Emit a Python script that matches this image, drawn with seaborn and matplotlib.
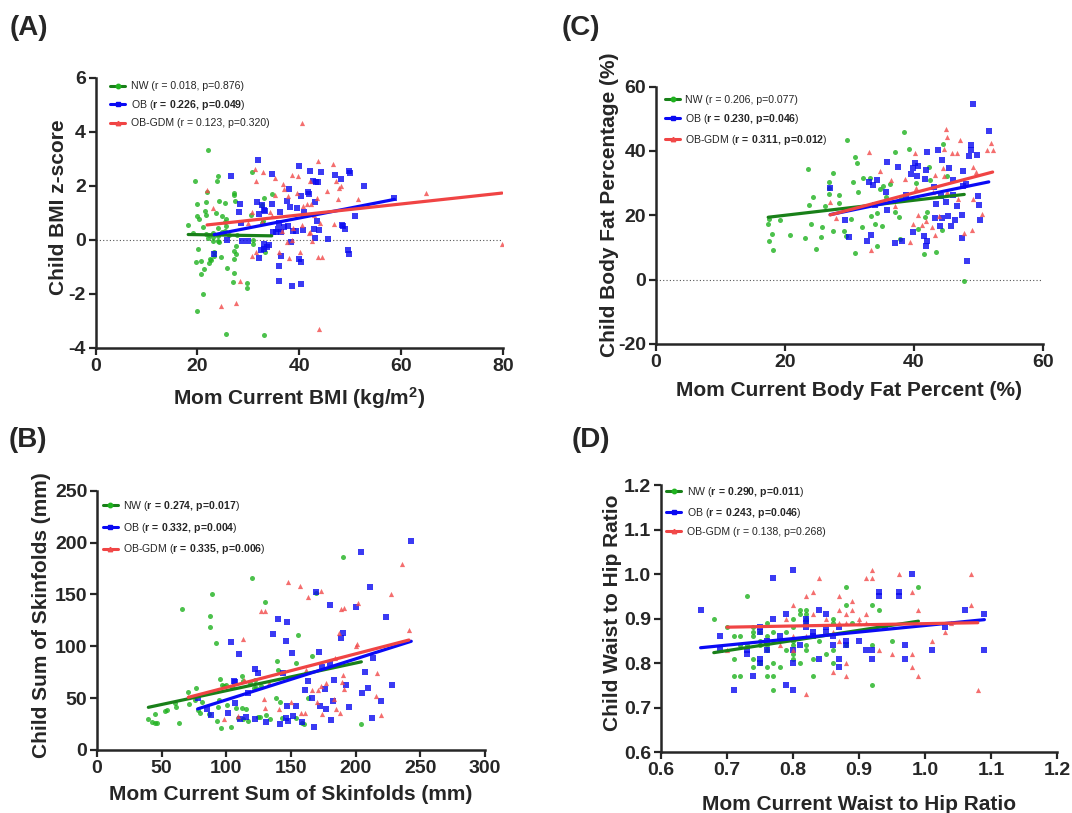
import matplotlib
matplotlib.use("Agg")
import matplotlib.pyplot as plt
from matplotlib.lines import Line2D
import seaborn as sns

# ---- data ----
# (A) Mom BMI vs child BMI z-score
a_nw_x = [22.0, 19.5, 24.0, 23.8, 21.9, 27.1, 27.2, 20.0, 21.7, 24.3, 25.4, 27.3, 21.4, 21.6,
          23.7, 20.0, 20.3, 24.8, 25.6, 25.4, 25.6, 18.2, 21.2, 24.1, 19.2, 21.6, 22.3, 23.0,
          24.8, 25.4, 27.7, 23.1, 24.0, 24.2, 22.0, 23.0, 24.1, 26.3, 27.5, 20.2, 23.3, 23.2,
          22.5, 22.6, 22.3, 20.8, 19.7, 21.3, 20.8, 24.6, 27.1, 27.5, 27.1, 25.8, 27.2, 26.9,
          29.7, 29.7, 21.2, 20.0, 25.6, 33.1, 30.7, 34.6, 33.1, 32.7, 30.6, 31.0, 31.0, 32.8,
          32.6, 33.3]
a_nw_y = [3.33, 2.17, 2.38, 2.20, 1.77, 1.73, 1.66, 1.34, 1.42, 1.45, 1.36, 1.46, 1.06, 0.91,
          0.99, 0.87, 0.78, 0.87, 0.77, 0.66, 0.53, 0.55, 0.47, 0.44, 0.26, 0.23, 0.17, 0.26,
          0.29, 0.32, 0.20, -0.05, -0.05, -0.09, 0.07, 0.12, 0.14, 0.17, -0.21, -0.32, -0.45, -0.58,
          -0.70, -0.76, -0.87, -0.77, -0.80, -1.09, -1.25, -0.63, -0.40, -0.51, -0.69, -1.03, -1.21, -1.56,
          -1.61, -1.77, -2.01, -2.63, -3.47, -3.53, 2.53, 1.72, 1.57, 1.28, 0.92, -0.01, -0.14, 0.69,
          0.61, -0.45]
a_ob_x = [31.9, 40.0, 26.6, 34.6, 42.2, 44.2, 47.0, 49.7, 50.0, 52.7, 48.2, 42.7, 43.2, 43.7,
          40.3, 41.8, 41.9, 38.0, 34.6, 32.7, 31.7, 28.4, 28.2, 33.3, 33.1, 32.0, 36.3, 37.6,
          38.2, 39.5, 41.0, 43.0, 43.5, 28.6, 36.1, 37.0, 37.8, 38.8, 39.3, 40.7, 42.9, 43.8,
          48.4, 48.9, 48.5, 50.9, 34.8, 35.4, 36.5, 35.8, 45.6, 43.0, 25.9, 28.8, 30.0, 33.0,
          33.6, 33.1, 34.1, 32.4, 32.1, 36.4, 38.4, 39.9, 40.3, 36.0, 49.5, 49.7, 23.3, 36.0,
          38.6, 40.4, 58.7]
a_ob_y = [2.98, 2.75, 2.36, 2.43, 2.54, 2.50, 2.40, 2.56, 2.49, 2.00, 2.27, 2.18, 2.16, 2.14,
          1.63, 1.77, 1.70, 1.89, 1.34, 1.29, 1.42, 1.34, 1.03, 1.06, 1.12, 0.97, 1.04, 1.45,
          1.23, 1.20, 1.04, 1.39, 0.71, 0.64, 0.61, 0.47, 0.50, 0.34, 0.34, 0.38, 0.42, 0.38,
          0.55, 0.40, 0.53, 0.88, 0.29, 0.28, 0.29, 0.40, 0.02, 0.07, 0.00, -0.05, -0.05, -0.15,
          -0.25, -0.32, -0.20, -0.39, -0.66, -0.60, -0.07, -0.70, -0.81, -0.98, -0.36, -0.52, -0.51, -1.52,
          -1.72, -1.64, 1.55]
a_gdm_x = [40.5, 21.9, 31.4, 32.8, 31.6, 35.3, 36.9, 38.5, 39.7, 42.1, 43.7, 46.7, 47.3, 47.9,
           48.2, 64.9, 23.1, 30.8, 35.2, 37.1, 37.8, 39.5, 40.8, 41.5, 42.4, 43.4, 45.4, 47.6,
           51.6, 42.9, 34.2, 34.7, 32.6, 29.9, 36.7, 38.8, 40.5, 41.9, 42.1, 44.0, 46.8, 42.6,
           37.5, 38.5, 31.5, 30.8, 36.1, 38.0, 40.1, 43.7, 44.5, 28.4, 27.5, 24.6, 43.8, 79.8]
a_gdm_y = [4.33, 1.85, 2.61, 2.52, 2.20, 2.29, 2.07, 2.40, 2.37, 2.20, 2.93, 2.80, 2.20, 1.91,
           2.00, 1.75, 1.18, 1.03, 1.67, 1.88, 1.61, 1.75, 1.25, 1.32, 1.34, 1.55, 1.80, 1.51,
           1.50, 0.91, 1.04, 0.90, 0.66, 0.64, 0.32, 0.43, 0.56, 0.27, 0.30, 0.61, 0.58, -0.02,
           -0.06, 0.01, -0.43, -0.60, -0.44, -0.65, -0.45, -0.63, -0.63, -1.53, -2.34, -2.45, -3.29, -0.15]

# (C) Mom body fat % vs child body fat %
c_nw_x = [29.6, 38.4, 39.3, 37.0, 30.8, 31.2, 44.5, 23.5, 27.4, 26.8, 26.9, 24.3, 23.7, 26.9,
          28.4, 28.4, 26.2, 30.5, 32.1, 33.2, 31.4, 34.7, 35.2, 35.7, 38.0, 36.3, 40.3, 42.3,
          42.5, 45.2, 19.2, 17.5, 17.4, 18.0, 17.5, 18.1, 20.8, 23.1, 24.0, 24.8, 25.6, 25.8,
          27.4, 29.2, 29.4, 30.2, 30.8, 31.9, 33.3, 33.9, 34.3, 34.2, 35.0, 37.1, 37.7, 37.9,
          40.6, 41.7, 42.1, 41.6, 43.4, 44.4, 47.8]
c_nw_y = [43.5, 45.8, 40.6, 39.6, 38.0, 36.3, 42.3, 34.4, 33.2, 30.3, 28.5, 25.7, 23.1, 26.6,
          26.2, 23.7, 23.0, 30.3, 31.7, 31.6, 27.3, 28.2, 29.0, 25.7, 25.3, 29.7, 29.9, 34.9,
          31.1, 32.3, 18.5, 18.9, 17.4, 14.1, 12.1, 9.3, 13.8, 13.0, 17.4, 9.6, 13.4, 16.3,
          15.2, 15.0, 13.6, 19.0, 8.2, 16.3, 19.7, 17.4, 10.5, 20.7, 16.6, 21.0, 19.5, 12.7,
          15.9, 19.4, 20.9, 8.0, 8.5, 15.5, -0.4]
c_ob_x = [49.1, 51.6, 48.9, 48.8, 49.7, 48.6, 42.1, 43.7, 44.3, 45.4, 35.8, 37.6, 40.1, 39.8,
          40.6, 39.5, 40.4, 41.9, 41.7, 46.1, 47.6, 47.6, 48.0, 43.1, 46.0, 50.0, 50.1, 44.2,
          43.4, 44.9, 46.6, 45.3, 44.4, 45.8, 46.3, 47.4, 50.2, 43.3, 44.1, 27.0, 33.1, 34.2,
          33.6, 35.7, 35.8, 33.9, 29.3, 30.0, 32.7, 33.4, 37.0, 38.2, 39.9, 41.5, 42.1, 41.9,
          47.5, 48.2, 38.8]
c_ob_y = [54.7, 46.2, 42.0, 40.4, 38.9, 38.3, 39.7, 40.2, 37.2, 34.7, 36.5, 34.9, 36.3, 34.6,
          35.2, 33.0, 32.1, 34.2, 31.4, 31.1, 33.9, 29.1, 29.8, 28.8, 26.4, 26.1, 23.3, 26.1,
          23.6, 24.0, 22.8, 19.7, 19.2, 16.8, 18.4, 20.2, 18.4, 19.2, 16.8, 28.5, 30.5, 30.9,
          29.5, 27.4, 21.8, 23.1, 18.7, 13.2, 12.1, 13.8, 11.3, 11.9, 14.8, 13.5, 12.1, 10.4,
          13.0, 5.7, 26.4]
c_gdm_x = [33.1, 34.8, 36.4, 38.6, 40.2, 44.9, 45.1, 44.7, 45.9, 46.7, 47.1, 52.0, 51.4, 52.2,
           49.2, 49.6, 44.5, 44.7, 43.3, 40.3, 43.0, 45.1, 46.9, 49.2, 50.6, 40.6, 41.9, 43.9,
           42.8, 43.2, 41.3, 39.8, 39.4, 47.7, 49.0, 33.3, 27.9, 27.0, 37.0]
c_gdm_y = [39.6, 33.7, 31.1, 31.3, 39.4, 46.9, 44.4, 40.6, 39.5, 39.4, 43.3, 42.5, 40.2, 40.2,
           34.9, 33.5, 34.7, 32.2, 32.5, 28.5, 27.4, 27.2, 25.1, 25.1, 20.5, 20.0, 18.1, 19.9,
           16.4, 14.0, 16.9, 17.3, 11.8, 14.5, 15.5, 9.3, 19.2, 24.0, 22.8]

# (B) Mom sum of skinfolds vs child sum of skinfolds
b_nw_x = [39.7, 42.8, 44.6, 46.1, 44.6, 52.6, 54.4, 60.3, 63.7, 61.3, 66.0, 70.6, 71.1, 76.3,
          75.8, 78.4, 79.6, 81.4, 86.9, 89.2, 87.6, 87.6, 91.8, 94.8, 96.4, 98.2, 99.5, 94.3,
          93.8, 92.8, 95.9, 103.4, 100.8, 104.1, 107.5, 111.9, 112.6, 109.3, 113.2, 112.4, 115.0,
          117.0, 118.0, 120.1, 121.1, 123.2, 122.2, 124.7, 126.0, 126.8, 129.9, 130.4, 133.5,
          138.1, 139.4, 140.2, 141.2, 142.8, 154.1, 155.7, 154.1, 158.8, 160.0, 166.0, 162.9,
          169.6, 190.2, 204.4]
b_nw_y = [29.9, 26.7, 25.7, 25.7, 34.4, 37.3, 38.6, 45.7, 25.7, 41.8, 135.7, 56.3, 44.1, 59.5,
          48.6, 38.6, 36.0, 46.0, 34.4, 150.2, 129.6, 119.0, 102.9, 68.5, 62.4, 61.7, 62.4, 48.2,
          41.2, 28.3, 20.9, 21.9, 43.4, 61.1, 40.8, 71.7, 66.2, 30.5, 29.6, 40.2, 39.2,
          28.0, 64.3, 165.9, 59.5, 60.1, 67.5, 31.5, 32.1, 61.7, 142.8, 33.8, 29.9,
          49.8, 85.9, 77.2, 46.0, 31.2, 30.5, 111.3, 84.2, 25.7, 24.7, 90.7, 49.8,
          151.8, 185.9, 25.1]
b_ob_x = [77.8, 85.3, 87.9, 103.9, 109.8, 105.9, 106.7, 106.4, 101.5, 110.3, 115.5, 117.0,
          121.9, 124.5, 121.9, 130.9, 135.8, 139.7, 146.6, 145.9, 144.1, 151.0, 147.2, 147.9,
          141.2, 151.8, 153.6, 158.8, 161.1, 163.1, 166.2, 167.8, 169.1, 171.6, 172.2, 174.2,
          176.0, 177.3, 179.9, 179.9, 181.2, 183.0, 182.7, 190.2, 188.9, 192.8, 195.1, 200.0,
          204.4, 205.2, 207.2, 209.3, 211.1, 212.4, 213.1, 219.3, 223.2, 228.4, 243.0, 146.4]
b_ob_y = [50.5, 39.9, 33.4, 104.2, 92.6, 66.9, 65.6, 45.7, 36.0, 29.6, 32.2, 55.3,
          77.8, 74.6, 29.9, 27.3, 111.9, 126.7, 123.8, 104.8, 74.0, 93.9, 42.8, 28.0,
          25.1, 32.8, 42.4, 27.3, 57.9, 66.9, 50.5, 21.9, 152.4, 94.5, 42.4, 79.7,
          58.5, 39.2, 139.9, 83.6, 28.9, 67.5, 47.6, 112.5, 108.0, 62.7, 41.8, 138.3,
          190.7, 55.3, 75.6, 59.5, 157.6, 30.5, 88.4, 47.6, 128.6, 62.7, 201.9, 30.5]
b_gdm_x = [70.6, 97.9, 112.9, 113.4, 109.0, 127.1, 129.6, 128.9, 129.9, 133.0, 147.9, 157.0,
           163.1, 172.9, 150.0, 157.5, 160.9, 161.3, 166.5, 171.1, 172.9, 170.4, 177.3, 174.0,
           184.0, 183.5, 184.5, 187.1, 189.0, 191.1, 190.2, 189.5, 190.8, 187.6, 200.0, 200.8,
           202.1, 216.2, 215.5, 219.3, 227.1, 236.1, 241.2, 140.7]
b_gdm_y = [51.4, 29.6, 107.1, 67.5, 33.1, 134.4, 134.4, 49.2, 40.2, 64.3, 162.4, 158.5,
           147.9, 153.4, 46.6, 36.0, 36.0, 77.2, 57.9, 57.9, 61.7, 46.6, 64.3, 34.7,
           88.4, 49.5, 39.2, 112.5, 135.7, 136.7, 72.3, 65.2, 58.8, 36.0, 100.3, 102.3,
           141.5, 74.6, 52.4, 33.4, 150.5, 179.4, 115.4, 39.2]

# (D) Mom waist-to-hip vs child waist-to-hip
d_nw_x = [0.68, 0.70, 0.71, 0.72, 0.71, 0.71, 0.72, 0.72, 0.73, 0.73, 0.74, 0.74, 0.74, 0.74,
          0.74, 0.75, 0.75, 0.75, 0.75, 0.76, 0.76, 0.76, 0.76, 0.76, 0.76, 0.77, 0.77, 0.77,
          0.79, 0.79, 0.80, 0.80, 0.80, 0.80, 0.80, 0.80, 0.81, 0.81, 0.81, 0.82, 0.82, 0.82,
          0.82, 0.82, 0.82, 0.83, 0.83, 0.84, 0.86, 0.86, 0.86, 0.86, 0.85, 0.88, 0.88, 0.88,
          0.89, 0.92, 0.92, 0.92, 0.93, 0.95, 0.99, 0.77, 0.78]
d_nw_y = [0.90, 0.88, 0.86, 0.86, 0.81, 0.77, 0.77, 0.84, 0.95, 0.84, 0.88, 0.87, 0.86, 0.81,
          0.79, 0.87, 0.85, 0.84, 0.80, 0.89, 0.86, 0.84, 0.83, 0.79, 0.77, 0.87, 0.80, 0.74,
          0.87, 0.83, 0.90, 0.88, 0.85, 0.84, 0.82, 0.81, 0.92, 0.91, 0.80, 0.92, 0.91, 0.90,
          0.89, 0.84, 0.83, 0.81, 0.77, 0.85, 0.90, 0.89, 0.83, 0.80, 0.82, 0.97, 0.93, 0.84,
          0.89, 0.93, 0.84, 0.75, 0.92, 0.85, 0.97, 0.77, 0.79]
d_ob_x = [0.66, 0.69, 0.69, 0.71, 0.73, 0.73, 0.74, 0.75, 0.75, 0.75, 0.75, 0.76, 0.76, 0.77,
          0.77, 0.78, 0.79, 0.79, 0.80, 0.80, 0.80, 0.80, 0.81, 0.82, 0.82, 0.82, 0.83, 0.83,
          0.84, 0.84, 0.85, 0.85, 0.85, 0.86, 0.86, 0.87, 0.87, 0.87, 0.88, 0.88, 0.90, 0.91,
          0.92, 0.92, 0.93, 0.93, 0.94, 0.96, 0.96, 0.98, 0.97, 0.97, 1.01, 1.03, 1.06, 1.09,
          1.09]
d_ob_y = [0.92, 0.86, 0.83, 0.74, 0.83, 0.82, 0.77, 0.88, 0.87, 0.81, 0.80, 0.85, 0.83, 0.99,
          0.90, 0.86, 0.91, 0.75, 1.01, 0.83, 0.80, 0.74, 0.84, 0.90, 0.89, 0.88, 0.87, 0.86,
          0.92, 0.81, 0.91, 0.88, 0.87, 0.86, 0.84, 0.81, 0.79, 0.88, 0.85, 0.84, 0.85, 0.83,
          0.83, 0.81, 0.96, 0.95, 0.88, 0.96, 0.95, 1.00, 0.84, 0.81, 0.83, 0.88, 0.92, 0.91,
          0.83]
d_gdm_x = [0.70, 0.78, 0.79, 0.80, 0.80, 0.80, 0.82, 0.83, 0.82, 0.82, 0.84, 0.86, 0.87, 0.87,
           0.87, 0.88, 0.88, 0.89, 0.89, 0.88, 0.88, 0.90, 0.90, 0.91, 0.91, 0.91, 0.92, 0.92,
           0.93, 0.96, 0.95, 0.98, 0.98, 0.98, 0.99, 0.99, 1.01, 1.03, 1.04, 1.07, 1.07, 1.08,
           0.83, 0.85, 0.87, 0.86]
d_gdm_y = [0.83, 0.84, 0.90, 0.93, 0.86, 0.83, 0.95, 0.96, 0.86, 0.73, 0.99, 0.78, 0.95, 0.92,
           0.89, 0.91, 0.89, 0.94, 0.92, 0.80, 0.77, 0.90, 0.89, 0.91, 0.89, 0.99, 1.01, 0.99,
           0.83, 1.00, 0.82, 0.96, 0.82, 0.79, 0.92, 0.77, 0.85, 0.87, 0.89, 1.00, 0.93, 0.74,
           0.91, 0.90, 0.85, 0.87]

groups = ["NW", "OB", "OB-GDM"]
point_colors = {"NW": "#1fb21f", "OB": "#0a0af0", "OB-GDM": "#f24a4a"}
line_colors = {"NW": "#198019", "OB": "#0a0af5", "OB-GDM": "#f04444"}
markers = {"NW": "o", "OB": "s", "OB-GDM": "^"}
marker_sizes = {"NW": 13, "OB": 14, "OB-GDM": 14}

panels = [
    dict(tag="(A)", pos=[0.0891, 0.5720, 0.3801, 0.3321],
         data={"NW": (a_nw_x, a_nw_y), "OB": (a_ob_x, a_ob_y), "OB-GDM": (a_gdm_x, a_gdm_y)},
         stats={"NW": ("0.018", "0.876", False), "OB": ("0.226", "0.049", True),
                "OB-GDM": ("0.123", "0.320", False)},
         xlim=(0, 80), xticks=[0, 20, 40, 60, 80], ylim=(-4, 6), yticks=[-4, -2, 0, 2, 4, 6],
         xlabel=r"Mom Current BMI (kg/m$^{\mathbf{2}}$)", ylabel="Child BMI z-score",
         zero=True, fmt="{:g}", tag_xy=(0.009, 0.965),
         xlab_y=-0.185, ylab=(-0.092, 0.52), leg=(0.036, 0.988), leg_sp=0.62),
    dict(tag="(C)", pos=[0.6119, 0.5769, 0.3610, 0.3165],
         data={"NW": (c_nw_x, c_nw_y), "OB": (c_ob_x, c_ob_y), "OB-GDM": (c_gdm_x, c_gdm_y)},
         stats={"NW": ("0.206", "0.077", False), "OB": ("0.230", "0.046", True),
                "OB-GDM": ("0.311", "0.012", True)},
         xlim=(0, 60), xticks=[0, 20, 40, 60], ylim=(-20, 60), yticks=[-20, 0, 20, 40, 60],
         xlabel="Mom Current Body Fat Percent (%)", ylabel="Child Body Fat Percentage (%)",
         zero=True, fmt="{:g}", tag_xy=(0.524, 0.965),
         xlab_y=-0.179, ylab=(-0.121, 0.54), leg=(0.023, 0.967), leg_sp=0.65),
    dict(tag="(B)", pos=[0.0905, 0.0775, 0.3619, 0.3189],
         data={"NW": (b_nw_x, b_nw_y), "OB": (b_ob_x, b_ob_y), "OB-GDM": (b_gdm_x, b_gdm_y)},
         stats={"NW": ("0.274", "0.017", True), "OB": ("0.332", "0.004", True),
                "OB-GDM": ("0.335", "0.006", True)},
         xlim=(0, 300), xticks=[0, 50, 100, 150, 200, 250, 300], ylim=(0, 250),
         yticks=[0, 50, 100, 150, 200, 250],
         xlabel="Mom Current Sum of Skinfolds (mm)", ylabel="Child Sum of Skinfolds (mm)",
         zero=False, fmt="{:g}", tag_xy=(0.008, 0.459),
         xlab_y=-0.172, ylab=(-0.144, 0.52), leg=(0.015, 0.968), leg_sp=0.72),
    dict(tag="(D)", pos=[0.6166, 0.0750, 0.3694, 0.3284],
         data={"NW": (d_nw_x, d_nw_y), "OB": (d_ob_x, d_ob_y), "OB-GDM": (d_gdm_x, d_gdm_y)},
         stats={"NW": ("0.290", "0.011", True), "OB": ("0.243", "0.046", True),
                "OB-GDM": ("0.138", "0.268", False)},
         xlim=(0.6, 1.2), xticks=[0.6, 0.7, 0.8, 0.9, 1.0, 1.1, 1.2], ylim=(0.6, 1.2),
         yticks=[0.6, 0.7, 0.8, 0.9, 1.0, 1.1, 1.2],
         xlabel="Mom Current Waist to Hip Ratio", ylabel="Child Waist to Hip Ratio",
         zero=False, fmt="{:.1f}", tag_xy=(0.533, 0.459),
         xlab_y=-0.195, ylab=(-0.122, 0.52), leg=(0.013, 1.0), leg_sp=0.64),
]

sns.set_style("ticks")
plt.rcParams["font.family"] = ["Liberation Sans", "DejaVu Sans"]
plt.rcParams["mathtext.fontset"] = "custom"
plt.rcParams["mathtext.rm"] = "Liberation Sans"
plt.rcParams["mathtext.bf"] = "Liberation Sans:bold"
plt.rcParams["mathtext.it"] = "Liberation Sans:italic"


def stat_label(name, r, p, bold):
    if bold:
        return name + " (" + r"$\mathbf{r\,=\," + r + r"{,}\ p\!=\!" + p + "}$" + ")"
    return f"{name} (r = {r}, p={p})"


fig = plt.figure(figsize=(10.72, 8.13), dpi=100)

for pnl in panels:
    ax = fig.add_axes(pnl["pos"])
    for g in groups:
        xs, ys = pnl["data"][g]
        sns.regplot(x=xs, y=ys, ax=ax, ci=None, marker=markers[g],
                    scatter_kws=dict(s=marker_sizes[g], color=point_colors[g], linewidths=0,
                                     zorder=3),
                    line_kws=dict(color=line_colors[g], lw=2.3, zorder=4))
    if pnl["zero"]:
        ax.axhline(0, color="#555555", lw=0.8, ls=(0, (1, 2)), zorder=1)

    ax.set_xlim(pnl["xlim"])
    ax.set_ylim(pnl["ylim"])
    ax.set_xticks(pnl["xticks"])
    ax.set_yticks(pnl["yticks"])
    ax.set_xticklabels([pnl["fmt"].format(t) for t in pnl["xticks"]])
    ax.set_yticklabels([pnl["fmt"].format(t) for t in pnl["yticks"]])
    ax.tick_params(labelsize=14, width=1.6, length=5, direction="out", pad=2)
    for lbl in ax.get_xticklabels() + ax.get_yticklabels():
        lbl.set_fontweight("bold")
    ax.set_xlabel(pnl["xlabel"], fontsize=15, fontweight="bold", va="center")
    ax.set_ylabel(pnl["ylabel"], fontsize=15, fontweight="bold", va="center")
    ax.xaxis.set_label_coords(0.5, pnl["xlab_y"])
    ax.yaxis.set_label_coords(*pnl["ylab"])
    sns.despine(ax=ax)
    for s in ("left", "bottom"):
        ax.spines[s].set_linewidth(1.8)

    handles, labels = [], []
    for g in groups:
        handles.append(Line2D([0], [0], color=line_colors[g], lw=2.2, marker=markers[g],
                              markersize=3.2, markerfacecolor=point_colors[g],
                              markeredgecolor=point_colors[g]))
        r, p, bold = pnl["stats"][g]
        labels.append(stat_label(g, r, p, bold))
    ax.legend(handles, labels, loc="upper left", bbox_to_anchor=pnl["leg"], frameon=False,
              fontsize=7.6, handlelength=1.45, handletextpad=0.5, labelspacing=pnl["leg_sp"],
              borderaxespad=0, borderpad=0)

    fig.text(pnl["tag_xy"][0], pnl["tag_xy"][1], pnl["tag"], fontsize=20, fontweight="bold",
             va="center", ha="left")

fig.savefig("out.png", dpi=100)
